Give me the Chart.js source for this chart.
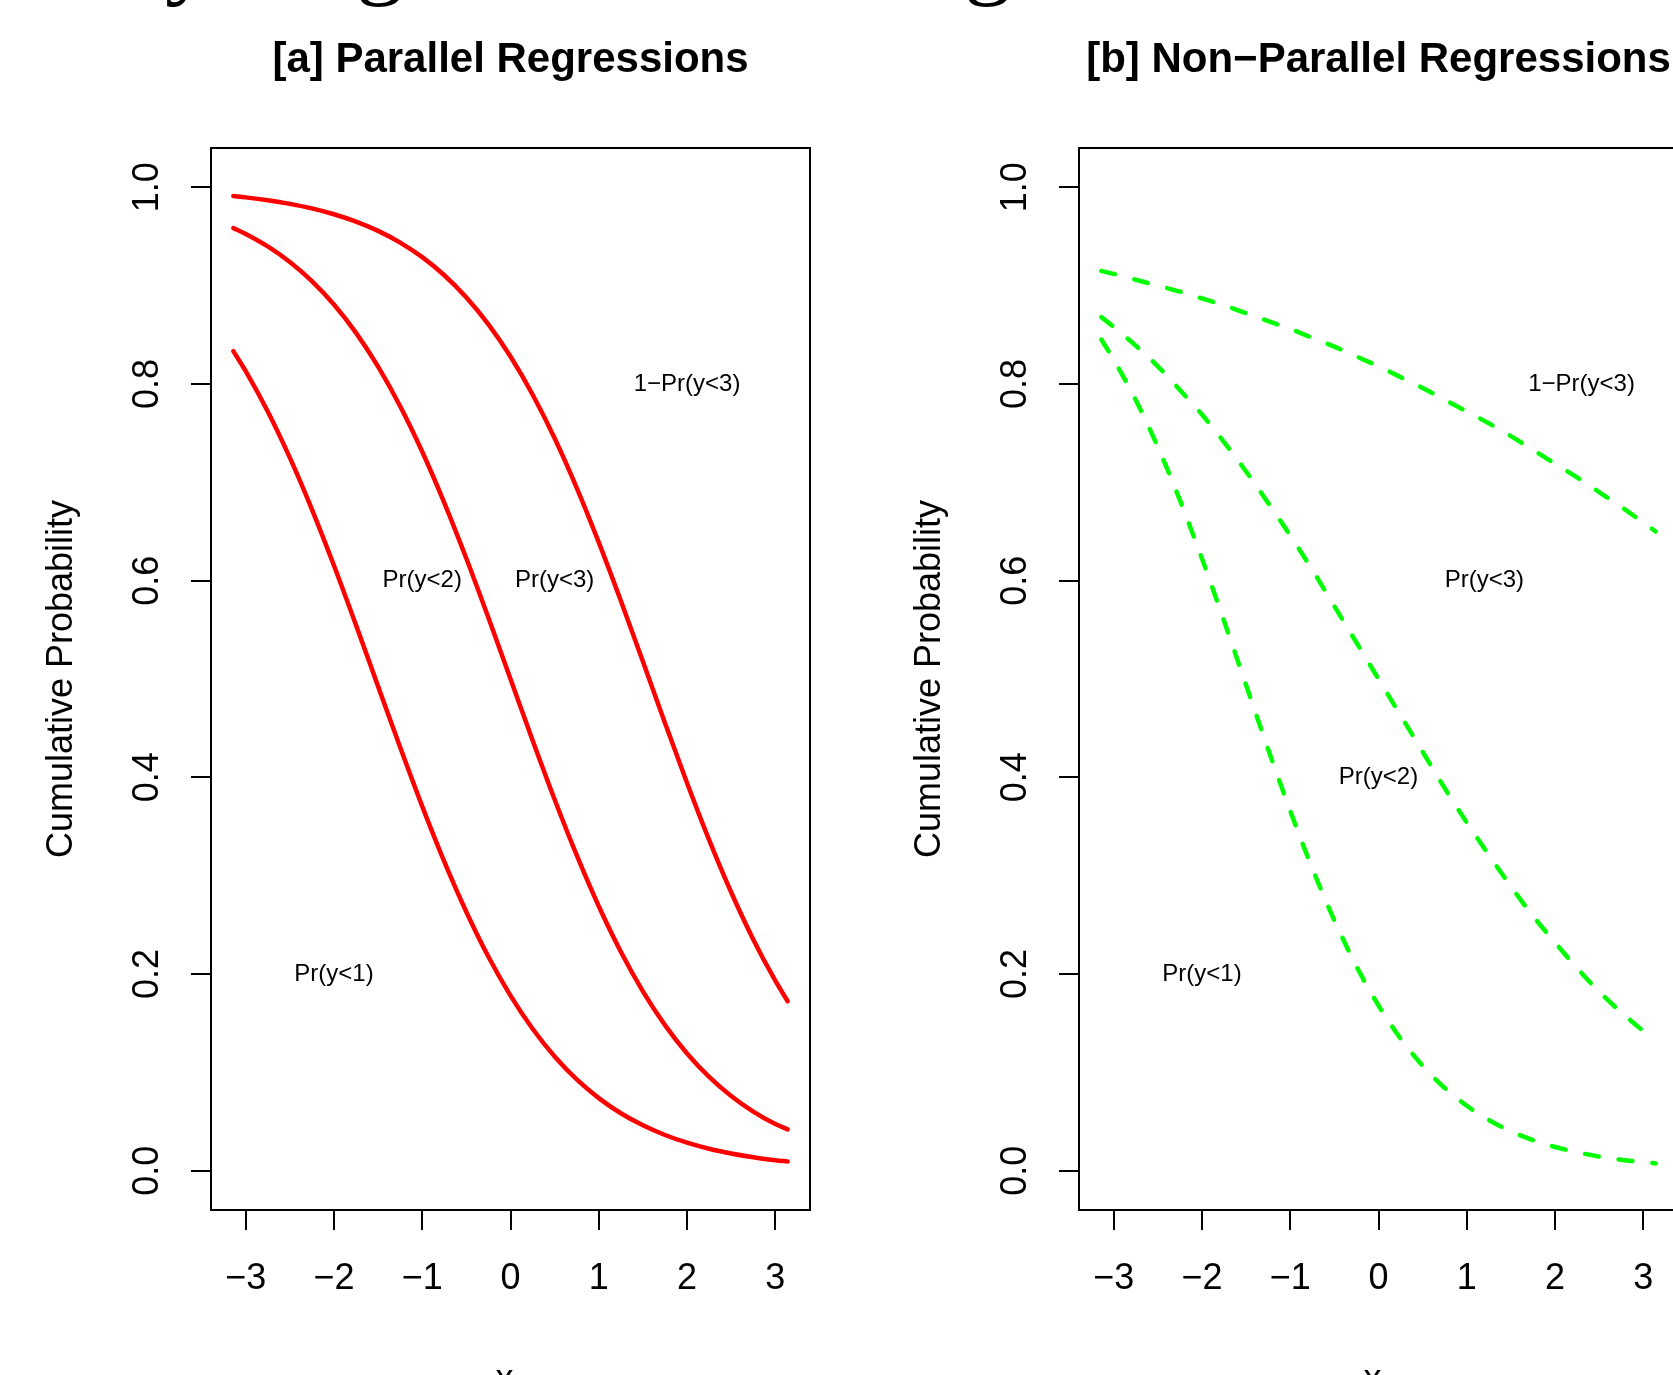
<!DOCTYPE html>
<html>
<head>
<meta charset="utf-8">
<script src="https://cdn.jsdelivr.net/npm/chart.js@4.4.1/dist/chart.umd.min.js"></script>
<style>
  html, body { margin: 0; padding: 0; background: #fff; }
  #page { position: relative; width: 1673px; height: 1375px; overflow: hidden; background: #fff; }
  canvas { position: absolute; top: 0; }
  #panelA { left: 0; }
  #panelB { left: 868px; }
  .cut { position: absolute; top: -93px; font: 96px/96px "Liberation Serif", serif; color: #000; }
</style>
</head>
<body>
<div id="page">
  <span class="cut" style="left:165px">y</span>
  <span class="cut" style="left:356px">g</span>
  <span class="cut" style="left:964px">g</span>
  <canvas id="panelA" width="836" height="1420"></canvas>
  <canvas id="panelB" width="836" height="1420"></canvas>
</div>
<script>
const xGrid = [-3.14, -3, -2.75, -2.5, -2.25, -2, -1.75, -1.5, -1.25, -1, -0.75, -0.5, -0.25, 0,
  0.25, 0.5, 0.75, 1, 1.25, 1.5, 1.75, 2, 2.25, 2.5, 2.75, 3, 3.14];

// [a] parallel curves
const parHigh = [0.9911, 0.9898, 0.9869, 0.9832, 0.9786, 0.9726, 0.9651, 0.9557, 0.9438, 0.9290, 0.9106, 0.8880,
  0.8607, 0.8279, 0.7893, 0.7448, 0.6944, 0.6389, 0.5795, 0.5177, 0.4553, 0.3943, 0.3364, 0.2831, 0.2352, 0.1932, 0.1723];
const parMid = [0.9585, 0.9526, 0.9399, 0.9241, 0.9047, 0.8808, 0.8520, 0.8176, 0.7773, 0.7311, 0.6792, 0.6225,
  0.5622, 0.5000, 0.4378, 0.3775, 0.3208, 0.2689, 0.2227, 0.1824, 0.1480, 0.1192, 0.0953, 0.0759, 0.0601, 0.0474, 0.0420];
const parLow = [0.8334, 0.8131, 0.7721, 0.7251, 0.6726, 0.6154, 0.5548, 0.4925, 0.4305, 0.3705, 0.3143, 0.2631,
  0.2175, 0.1780, 0.1443, 0.1161, 0.0928, 0.0738, 0.0584, 0.0461, 0.0363, 0.0285, 0.0223, 0.0175, 0.0137, 0.0107, 0.0093];

// [b] non-parallel curves
const nonParHigh = [0.915, 0.912, 0.906, 0.900, 0.894, 0.887, 0.880, 0.872, 0.864, 0.856, 0.847, 0.838, 0.828, 0.818,
  0.807, 0.796, 0.784, 0.772, 0.760, 0.747, 0.733, 0.719, 0.705, 0.690, 0.675, 0.659, 0.650];
const nonParMid = [0.868, 0.858, 0.839, 0.818, 0.794, 0.769, 0.741, 0.711, 0.679, 0.646, 0.611, 0.574, 0.537, 0.500,
  0.463, 0.426, 0.389, 0.354, 0.321, 0.289, 0.259, 0.232, 0.206, 0.182, 0.161, 0.142, 0.132];
const nonParLow = [0.8452, 0.8249, 0.7837, 0.7360, 0.6819, 0.6225, 0.5591, 0.4938, 0.4286, 0.3659, 0.3074, 0.2545,
  0.2079, 0.1680, 0.1344, 0.1067, 0.0841, 0.0660, 0.0515, 0.0401, 0.0311, 0.0241, 0.0187, 0.0144, 0.0111, 0.0086, 0.0074];

const xTicks = [-3, -2, -1, 0, 1, 2, 3];
const yTicks = [0, 0.2, 0.4, 0.6, 0.8, 1.0];

const labelText = ['Pr(y<1)', 'Pr(y<2)', 'Pr(y<3)', '1\u2212Pr(y<3)'];
const labelXA = [-2, -1, 0.5, 2];
const labelYA = [0.2, 0.6, 0.6, 0.8];
const labelXB = [-2, 0, 1.2, 2.3];
const labelYB = [0.2, 0.4, 0.6, 0.8];

const FONT = '"Liberation Sans", Arial, Helvetica, sans-serif';

const points = (ys) => xGrid.map((x, i) => ({ x, y: ys[i] }));

function curve(ys, color, dashed) {
  return {
    data: points(ys),
    borderColor: color,
    borderWidth: 4.5,
    borderDash: dashed ? [14, 20] : [],
    borderCapStyle: 'round',
    pointRadius: 0,
    cubicInterpolationMode: 'monotone',
    fill: false,
  };
}

// box round the plot, title above it, curve labels inside
function decor(title, xs, ys) {
  return {
    id: 'decor',
    afterDraw(chart) {
      const { ctx, chartArea: a, scales: { x, y } } = chart;
      ctx.save();
      ctx.strokeStyle = '#000';
      ctx.lineWidth = 2;
      ctx.strokeRect(a.left, a.top, a.right - a.left, a.bottom - a.top);
      ctx.fillStyle = '#000';
      ctx.textAlign = 'center';
      ctx.textBaseline = 'alphabetic';
      ctx.font = `bold 42px ${FONT}`;
      ctx.fillText(title, (a.left + a.right) / 2, 72);
      ctx.font = `24px ${FONT}`;
      ctx.textBaseline = 'middle';
      labelText.forEach((t, i) => ctx.fillText(t, x.getPixelForValue(xs[i]), y.getPixelForValue(ys[i])));
      ctx.restore();
    },
  };
}

function panelOptions() {
  const tickGrid = { drawOnChartArea: false, drawTicks: true, tickLength: 20, color: '#000', lineWidth: 2 };
  return {
    responsive: false,
    animation: false,
    layout: { padding: { top: 148, right: 26, left: 0, bottom: 0 } },
    plugins: { legend: { display: false }, tooltip: { enabled: false } },
    scales: {
      x: {
        type: 'linear',
        min: -3.3929,
        max: 3.3929,
        afterBuildTicks: (s) => { s.ticks = xTicks.map((v) => ({ value: v })); },
        afterFit: (s) => { s.height = 210; },
        grid: tickGrid,
        border: { display: false },
        ticks: {
          color: '#000', autoSkip: false, maxRotation: 0, padding: 27,
          font: { family: FONT, size: 36 },
          callback: (v) => (v < 0 ? '\u2212' + Math.abs(v) : String(v)),
        },
        title: {
          display: true, text: 'x\u2081', color: '#000',
          font: { family: FONT, size: 36 }, padding: { top: 0, bottom: 18 },
        },
      },
      y: {
        type: 'linear',
        min: -0.04,
        max: 1.04,
        afterBuildTicks: (s) => { s.ticks = yTicks.map((v) => ({ value: v })); },
        afterFit: (s) => { s.width = 211; },
        grid: tickGrid,
        border: { display: false },
        ticks: {
          color: '#000', autoSkip: false, minRotation: 90, maxRotation: 90,
          crossAlign: 'center', padding: 18,
          font: { family: FONT, size: 36 },
          callback: (v) => v.toFixed(1),
        },
        title: {
          display: true, text: 'Cumulative Probability', color: '#000',
          font: { family: FONT, size: 36 }, padding: { top: 40, bottom: 0 },
        },
      },
    },
  };
}

new Chart(document.getElementById('panelA'), {
  type: 'line',
  data: { datasets: [curve(parHigh, '#ff0000'), curve(parMid, '#ff0000'), curve(parLow, '#ff0000')] },
  options: panelOptions(),
  plugins: [decor('[a] Parallel Regressions', labelXA, labelYA)],
});

new Chart(document.getElementById('panelB'), {
  type: 'line',
  data: { datasets: [curve(nonParHigh, '#00ff00', true), curve(nonParMid, '#00ff00', true), curve(nonParLow, '#00ff00', true)] },
  options: panelOptions(),
  plugins: [decor('[b] Non\u2212Parallel Regressions', labelXB, labelYB)],
});
</script>
</body>
</html>
